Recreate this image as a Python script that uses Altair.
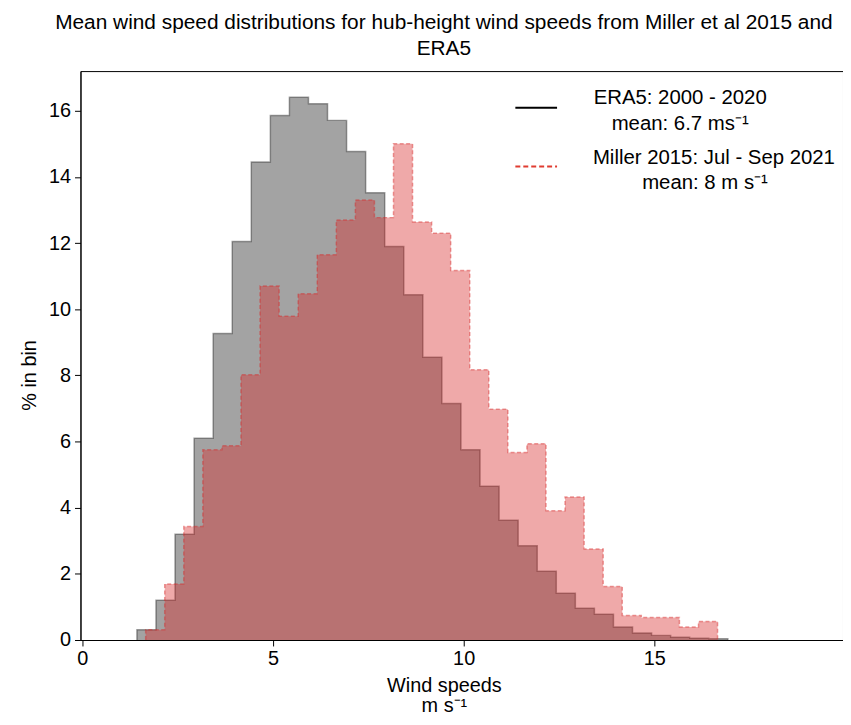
import altair as alt
import pandas as pd

# ---- data (percent of samples per 0.5 m/s bin) ----
bin_width = 0.5
era5_first_edge = 1.43
miller_first_edge = 1.66
era5_pct = [0.31, 1.2, 3.2, 6.1, 9.27, 12.05, 14.45, 15.86, 16.41, 16.21,
            15.71, 14.77, 13.52, 11.9, 10.44, 8.55, 7.15, 5.75, 4.65, 3.62,
            2.85, 2.08, 1.41, 0.96, 0.78, 0.39, 0.21, 0.14, 0.08, 0.05,
            0.04]
miller_pct = [0.31, 1.69, 3.43, 5.75, 5.87, 8.02, 10.7, 9.79, 10.47, 11.65,
              12.7, 13.3, 12.77, 15.0, 12.64, 12.3, 11.17, 8.17, 6.98, 5.67,
              5.93, 3.91, 4.32, 2.75, 1.62, 0.74, 0.68, 0.68, 0.39, 0.56]

x_ticks = [0, 5, 10, 15]
y_ticks = [0, 2, 4, 6, 8, 10, 12, 14, 16]
title_lines = ["Mean wind speed distributions for hub-height wind speeds from Miller et al 2015 and", "ERA5"]
legend_era5 = ["ERA5: 2000 - 2020", "mean: 6.7 ms\u207b\u00b9"]
legend_miller = ["Miller 2015: Jul - Sep 2021", "mean: 8 m s\u207b\u00b9"]

FONT = "Liberation Sans"


def step_frame(first_edge, heights):
    edges = [round(first_edge + bin_width * k, 4) for k in range(len(heights) + 1)]
    rows = [{"x": edges[0], "y": 0.0, "i": 0}]
    for k, h in enumerate(heights):
        rows.append({"x": edges[k], "y": h, "i": k + 1})
    rows.append({"x": edges[-1], "y": 0.0, "i": len(heights) + 1})
    return pd.DataFrame(rows)


era5_df = step_frame(era5_first_edge, era5_pct)
miller_df = step_frame(miller_first_edge, miller_pct)

xs = alt.Scale(domain=[-0.05, 19.95], nice=False, zero=False)
ys = alt.Scale(domain=[0, 17.2], nice=False, zero=True)

x_axis = alt.Axis(values=x_ticks, title=["Wind speeds", "m s\u207b\u00b9"],
                  titleX=366, titleY=36, titleBaseline="top",
                  titleAnchor="start", titleAlign="center",
                  titleLineHeight=20)
y_axis = alt.Axis(values=y_ticks, title="% in bin",
                  titleX=-51, titleY=306, titleAngle=270,
                  titleAlign="center", titleBaseline="middle",
                  titleAnchor="start")

era5_area = alt.Chart(era5_df[era5_df["i"] > 0]).mark_area(
    interpolate="step-after", color="#000000", opacity=0.36
).encode(x=alt.X("x:Q", scale=xs, axis=x_axis),
         y=alt.Y("y:Q", scale=ys, stack=None, axis=y_axis))

era5_line = alt.Chart(era5_df).mark_line(
    interpolate="step-after", color="#000000", strokeOpacity=0.36, strokeWidth=1.5
).encode(x=alt.X("x:Q", scale=xs), y=alt.Y("y:Q", scale=ys), order="i:Q")

miller_area = alt.Chart(miller_df[miller_df["i"] > 0]).mark_area(
    interpolate="step-after", color="#d62728", opacity=0.4
).encode(x=alt.X("x:Q", scale=xs), y=alt.Y("y:Q", scale=ys, stack=None))

miller_line = alt.Chart(miller_df).mark_line(
    interpolate="step-after", color="#d62728", strokeOpacity=0.45,
    strokeWidth=1.5, strokeDash=[4, 2.5]
).encode(x=alt.X("x:Q", scale=xs), y=alt.Y("y:Q", scale=ys), order="i:Q")

one = pd.DataFrame({"k": [0]})
leg_era5_line = alt.Chart(one).mark_rule(color="black", strokeWidth=2).encode(
    x=alt.value(438), x2=alt.value(480), y=alt.value(37))
leg_miller_line = alt.Chart(one).mark_rule(color="#e03c31", strokeWidth=2,
                                           strokeDash=[5, 3]).encode(
    x=alt.value(438), x2=alt.value(480), y=alt.value(96))


def leg_text(txt, cx, cy):
    return alt.Chart(one).mark_text(font=FONT, fontSize=20.5, color="black",
                                    align="center", baseline="middle").encode(
        x=alt.value(cx), y=alt.value(cy), text=alt.value(txt))


legend_layers = [
    leg_text(legend_era5[0], 604, 27),
    leg_text(legend_era5[1], 604, 53),
    leg_text(legend_miller[0], 638, 88),
    leg_text(legend_miller[1], 629, 113),
]

chart = alt.layer(
    era5_area, era5_line, miller_area, miller_line,
    leg_era5_line, leg_miller_line, *legend_layers
).properties(
    width=768, height=573,
    autosize=alt.AutoSizeParams(type="none"),
    padding={"left": 73, "top": 61, "right": 0, "bottom": 75},
    title=alt.TitleParams(text=title_lines, font=FONT, fontSize=21,
                          fontWeight="normal", color="black", anchor="middle",
                          dx=-18, offset=12, lineHeight=26),
).configure_view(
    stroke="black", strokeWidth=1
).configure_axis(
    grid=False, labelFont=FONT, labelFontSize=20, labelColor="black",
    titleFont=FONT, titleFontSize=20, titleFontWeight="normal", titleColor="black",
    tickColor="black", tickSize=6, tickWidth=1, domainColor="black", domainWidth=1,
    labelPadding=3
).configure_axisY(labelPadding=4)

chart.save("out.html", embed_options={"renderer": "svg", "actions": False})
